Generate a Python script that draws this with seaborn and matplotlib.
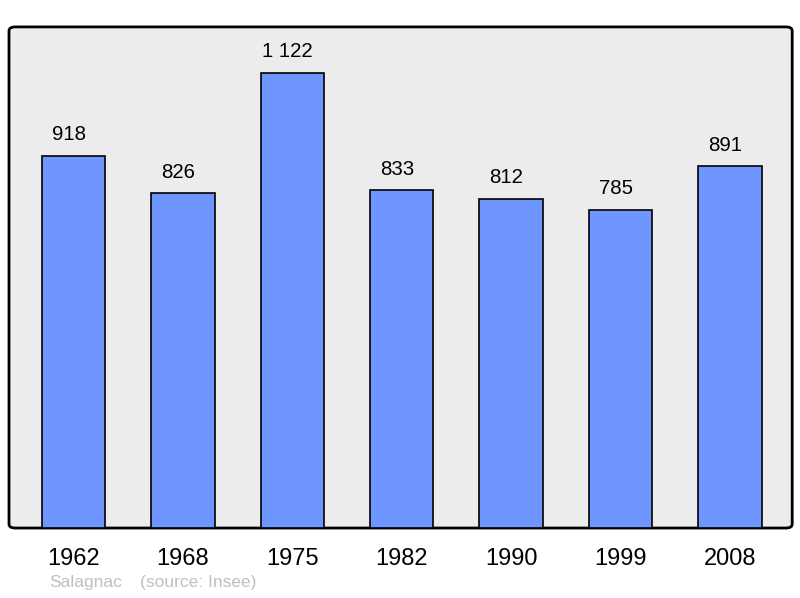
import pandas as pd
import matplotlib
matplotlib.use("Agg")
import matplotlib.pyplot as plt
import seaborn as sns
from matplotlib.patches import FancyBboxPatch

# population data
years = ["1962", "1968", "1975", "1982", "1990", "1999", "2008"]
population = [918, 826, 1122, 833, 812, 785, 891]
commune = "Salagnac"
source = "(source: Insee)"

df = pd.DataFrame({"year": years, "pop": population})

sns.set_style("white")
plt.rcParams["font.family"] = ["Liberation Sans", "DejaVu Sans"]

fig = plt.figure(figsize=(8, 5.98), dpi=100)
ax = fig.add_axes([0.01125, 0.117, 0.979, 0.838])
ax.set_facecolor("none")

# rounded grey panel
panel = FancyBboxPatch((0, 0), 1, 1, boxstyle="round,pad=0,rounding_size=0.008",
                       transform=ax.transAxes, facecolor="#ececec",
                       edgecolor="black", linewidth=2, zorder=0, clip_on=False)
ax.add_patch(panel)

sns.barplot(data=df, x="year", y="pop", order=years, color="#6f96ff",
            saturation=1, width=0.58, edgecolor="black", linewidth=1.2,
            ax=ax, zorder=2)

ax.set_xlim(-0.59, 6.57)
ax.set_ylim(0, 1235)

for i, v in enumerate(population):
    label = f"{v:,}".replace(",", " ")
    ax.text(i - 0.045, v + 28, label, ha="center", va="bottom", fontsize=14.7, color="black")

for s in ax.spines.values():
    s.set_visible(False)
ax.set_yticks([])
ax.set_xlabel("")
ax.set_ylabel("")
ax.tick_params(axis="x", length=0, labelsize=17, pad=14.5, labelcolor="black")

fig.text(49 / 800, 1 - 583 / 598, commune, fontsize=12.5, color="#c0c0c0", va="center")
fig.text(140 / 800, 1 - 583 / 598, source, fontsize=12.5, color="#c0c0c0", va="center")

fig.savefig("out.png", dpi=100)
